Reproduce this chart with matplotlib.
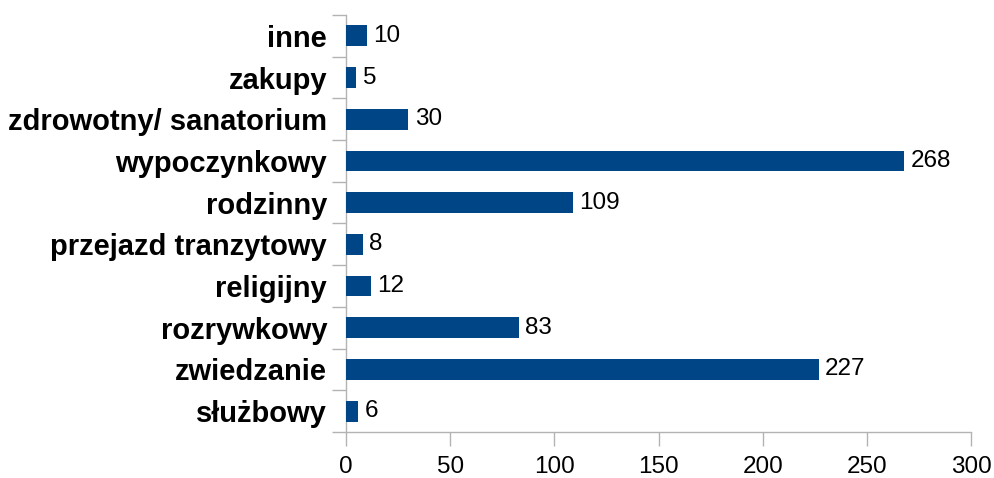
import matplotlib
matplotlib.use("Agg")
import matplotlib.pyplot as plt
import numpy as np

categories = ["służbowy", "zwiedzanie", "rozrywkowy", "religijny", "przejazd tranzytowy",
              "rodzinny", "wypoczynkowy", "zdrowotny/ sanatorium", "zakupy", "inne"]
values = [6, 227, 83, 12, 8, 109, 268, 30, 5, 10]
xticks = [0, 50, 100, 150, 200, 250, 300]

plt.rcParams['font.family'] = ['Liberation Sans', 'DejaVu Sans']

fig = plt.figure(figsize=(9.95, 4.78), dpi=100)
ax = fig.add_axes([346/995, 1-432/478, (971-346)/995, (432-15)/478])

y = np.arange(len(categories))
ax.barh(y, values, height=0.5, color="#004586", zorder=3)
for yi, v in zip(y, values):
    ax.text(v + 3, yi, str(v), va="center", ha="left", fontsize=17.5, color="black")

ax.set_xlim(0, 300)
ax.set_ylim(-0.5, len(categories) - 0.5)
ax.set_xticks(xticks)
ax.set_xticklabels([str(t) for t in xticks], fontsize=17.5)
ax.set_yticks(y)
ax.set_yticklabels(categories, fontsize=21, fontweight="bold")
ax.set_yticks(np.arange(-0.5, len(categories)), minor=True)
ax.tick_params(axis="y", which="major", length=0, pad=13.5)
ax.tick_params(axis="y", which="minor", length=10, color="#b3b3b3", width=1)
ax.tick_params(axis="x", which="major", length=10, color="#b3b3b3", width=1, pad=7)

for s in ["top", "right"]:
    ax.spines[s].set_visible(False)
for s in ["left", "bottom"]:
    ax.spines[s].set_color("#b3b3b3")
    ax.spines[s].set_linewidth(1)

fig.savefig("out.png", dpi=100)
